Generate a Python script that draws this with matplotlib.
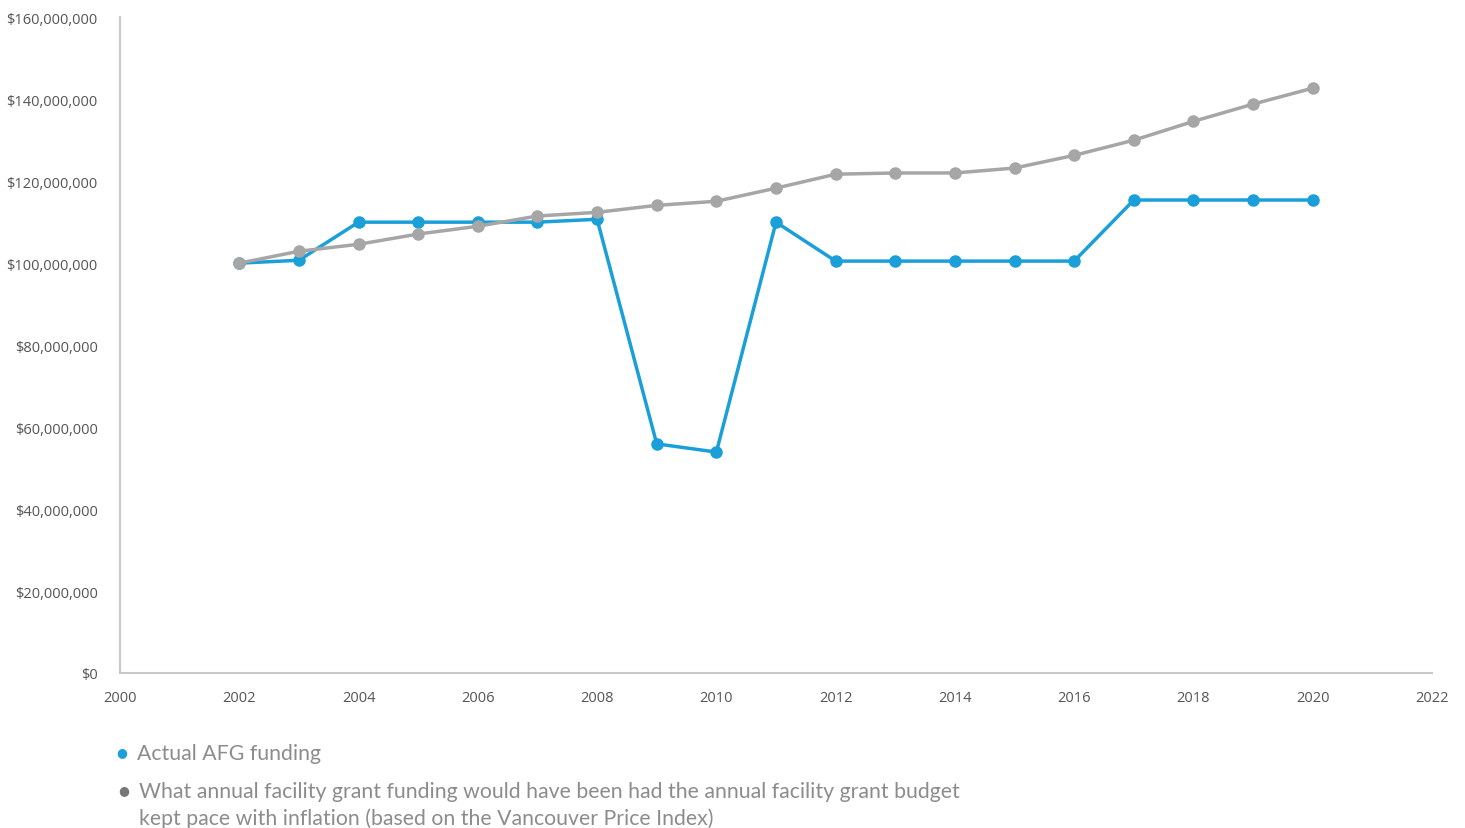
import matplotlib.pyplot as plt
from matplotlib.ticker import FuncFormatter

# ---- data --------------------------------------------------------------
years = list(range(2002, 2021))
actual_afg = [100.0, 100.7, 110.0, 110.0, 110.0, 110.0, 110.7, 55.9, 53.9,
              110.0, 100.5, 100.5, 100.5, 100.5, 100.5, 115.4, 115.4, 115.4, 115.4]
inflation_adj = [100.0, 102.9, 104.6, 107.1, 109.0, 111.5, 112.4, 114.1, 115.1,
                 118.3, 121.7, 122.0, 122.0, 123.2, 126.3, 130.0, 134.6, 138.8, 142.7]
labels = ["Actual AFG funding",
          "What annual facility grant funding would have been had the annual facility grant budget\n"
          "kept pace with inflation (based on the Vancouver Price Index)"]

BLUE = "#1a9fd9"
GREY = "#a6a6a6"

plt.rcParams['font.family'] = ['Open Sans', 'DejaVu Sans']

fig = plt.figure(figsize=(14.65, 8.29), dpi=100)
ax = fig.add_axes([0.0819, 0.187, 0.8956, 0.791])

ax.plot(years, [v * 1e6 for v in actual_afg], "-o", color=BLUE, lw=2.5, ms=8, zorder=3)
ax.plot(years, [v * 1e6 for v in inflation_adj], "-o", color=GREY, lw=2.5, ms=8, zorder=4)

ax.set_xlim(2000, 2022)
ax.set_ylim(0, 160e6)
ax.set_xticks(range(2000, 2023, 2))
ax.set_yticks([i * 20e6 for i in range(9)])
ax.yaxis.set_major_formatter(FuncFormatter(lambda v, p: f"${v:,.0f}"))

for s in ("top", "right"):
    ax.spines[s].set_visible(False)
for s in ("left", "bottom"):
    ax.spines[s].set_color("#c8c8c8")
    ax.spines[s].set_linewidth(1.5)
ax.tick_params(length=0, labelsize=10.5, colors="#555555")
ax.tick_params(axis="x", pad=12)
ax.tick_params(axis="y", pad=16)

# legend drawn as separate text below the plot
leg_font = ['Lato', 'DejaVu Sans']
fig.text(122 / 1465, 1 - 753 / 829, "\u25cf", color=BLUE, fontsize=9, va="center", ha="center")
fig.text(137 / 1465, 1 - 754 / 829, labels[0], color="#8c8c8c", fontsize=15.3, va="center",
         family=leg_font)
fig.text(124 / 1465, 1 - 791 / 829, "\u25cf", color="#777777", fontsize=9, va="center", ha="center")
fig.text(139 / 1465, 1 - 782 / 829, labels[1], color="#8c8c8c", fontsize=15.3, va="top",
         family=leg_font, linespacing=1.4)

fig.savefig("out.png", dpi=100)
